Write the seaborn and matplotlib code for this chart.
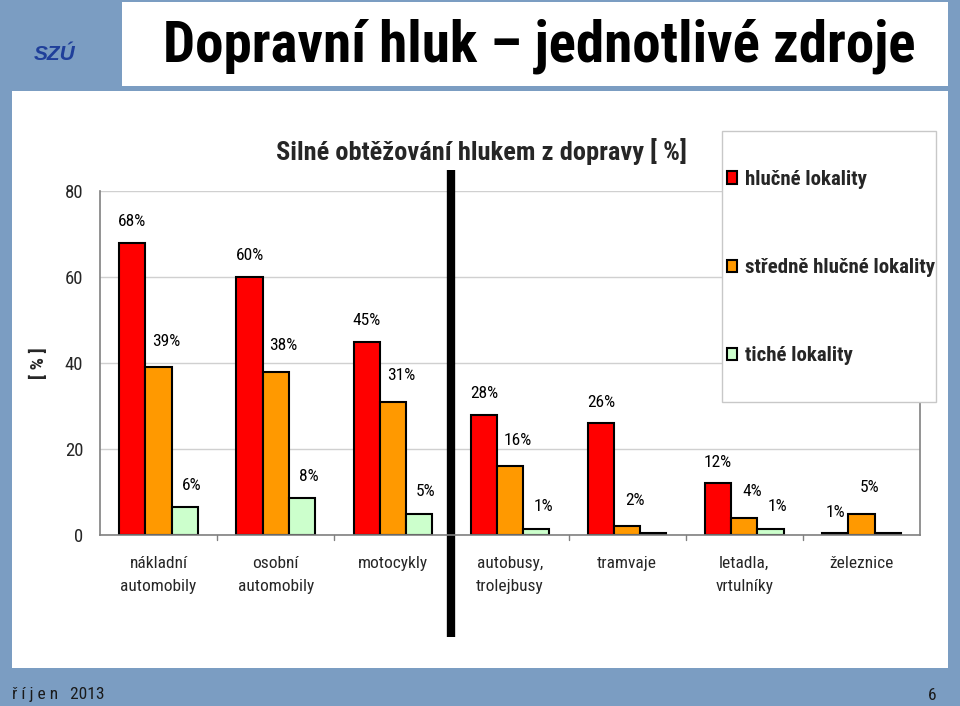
import matplotlib
matplotlib.use("Agg")
import matplotlib.pyplot as plt
from matplotlib.patches import Rectangle
import seaborn as sns
import pandas as pd

# ---- data ----
categories = ["nákladní\nautomobily", "osobní\nautomobily", "motocykly",
              "autobusy,\ntrolejbusy", "tramvaje", "letadla,\nvrtulníky", "železnice"]
series = ["hlučné lokality", "středně hlučné lokality", "tiché lokality"]
hlucne = [68, 60, 45, 28, 26, 12, 0.4]
stredne = [39, 38, 31, 16, 2, 4, 5]
tiche = [6.5, 8.5, 5, 1.5, 0.4, 1.5, 0.4]
labels_hlucne = ["68%", "60%", "45%", "28%", "26%", "12%", "1%"]
labels_stredne = ["39%", "38%", "31%", "16%", "2%", "4%", "5%"]
labels_tiche = ["6%", "8%", "5%", "1%", "", "1%", ""]
yticks = [0, 20, 40, 60, 80]
colors = ["#ff0000", "#ff9900", "#ccffcc"]

rows = []
for s, vals in zip(series, [hlucne, stredne, tiche]):
    for c, v in zip(categories, vals):
        rows.append({"kategorie": c, "lokalita": s, "hodnota": v})
df = pd.DataFrame(rows)

sns.set_theme(style="white")
FONT = ["Liberation Sans Narrow", "Roboto Condensed", "Barlow Semi Condensed", "DejaVu Sans"]
plt.rcParams["font.family"] = FONT

W, H = 960, 706
fig = plt.figure(figsize=(W / 100, H / 100), dpi=100)
fig.patch.set_facecolor("#7b9dc2")

def frect(x0, y0, x1, y1, **kw):
    fig.patches.append(Rectangle((x0 / W, 1 - y1 / H), (x1 - x0) / W, (y1 - y0) / H,
                                 transform=fig.transFigure, figure=fig, zorder=-5, **kw))

# white panels
frect(12, 91, 948, 668, facecolor="white", edgecolor="none")
frect(122, 2, 948, 86, facecolor="white", edgecolor="none")

fig.text(539 / W, 1 - 46 / H, "Dopravní hluk – jednotlivé zdroje", ha="center", va="center",
         fontsize=41, fontweight="bold", color="black")
# logo placeholder text
fig.text(55 / W, 1 - 55 / H, "SZÚ", ha="center", va="center", fontsize=15,
         fontweight="bold", fontstyle="italic", color="#1f3f9a", family=["Liberation Sans", "DejaVu Sans"])
fig.text(12 / W, 1 - 695 / H, "ř í j e n   2013", ha="left", va="center", fontsize=12.5, color="#1a1a1a")
fig.text(932 / W, 1 - 695 / H, "6", ha="center", va="center", fontsize=12.5, color="#1a1a1a")

ax = fig.add_axes([100 / W, 1 - 535 / H, 820 / W, 344 / H])
ax.set_facecolor("white")
sns.barplot(data=df, x="kategorie", y="hodnota", hue="lokalita", palette=colors, saturation=1,
            width=0.67, gap=0, edgecolor="black", linewidth=1.5, ax=ax, legend=True)

ax.set_ylim(0, 80)
ax.set_xlim(-0.5, len(categories) - 0.5)
ax.set_yticks(yticks)
ax.set_yticklabels([str(t) for t in yticks], fontsize=13.5)
ax.tick_params(axis="y", length=0, pad=12)
ax.tick_params(axis="x", length=0, pad=15, labelsize=12.5)
for lab in ax.get_xticklabels():
    lab.set_linespacing(1.65)
ax.set_xlabel("")
ax.set_ylabel("[ % ]", fontsize=14, fontweight="bold", labelpad=12)
ax.yaxis.grid(True, color="#d0d0d0", linewidth=1)
ax.set_axisbelow(True)
ax.spines["top"].set_visible(False)
for side in ["left", "bottom", "right"]:
    ax.spines[side].set_color("#808080")
    ax.spines[side].set_linewidth(1.2)
for b in range(1, len(categories)):
    ax.plot([b - 0.5, b - 0.5], [0, -0.015], transform=ax.get_xaxis_transform(),
            color="#808080", lw=1, clip_on=False)

all_labels = [labels_hlucne, labels_stredne, labels_tiche]
offsets = [(0, 21), (8, 26), (7, 22)]
for cont, labs, (dx, dy) in zip(ax.containers, all_labels, offsets):
    for rect, lab in zip(cont, labs):
        if not lab:
            continue
        xc = rect.get_x() + rect.get_width() / 2
        ax.annotate(lab, (xc, rect.get_height()), xytext=(dx, dy), textcoords="offset pixels",
                    ha="center", va="center", fontsize=12.5, color="black")

ax.plot([2.5, 2.5], [-0.297, 1.061], transform=ax.get_xaxis_transform(), color="black",
        lw=6, clip_on=False, solid_capstyle="butt")

ax.set_title("Silné obtěžování hlukem z dopravy [ %]", fontsize=19, fontweight="bold", pad=22,
             x=0.465)

# legend box
box = Rectangle((722 / W, 1 - 402 / H), 214 / W, 271 / H, transform=fig.transFigure,
                facecolor="white", edgecolor="#c8c8c8", linewidth=1, zorder=4.5, clip_on=False)
ax.add_artist(box)
leg = ax.legend(loc="upper left", bbox_to_anchor=(727 / W, 1 - 170 / H),
                bbox_transform=fig.transFigure, fontsize=15, frameon=False,
                labelspacing=3.32, borderpad=0, handlelength=0.5,
                handleheight=0.55, handletextpad=0.35, borderaxespad=0, title=None)
leg.set_zorder(6)
for t in leg.get_texts():
    t.set_fontweight("bold")

fig.savefig("out.png", dpi=100, facecolor=fig.get_facecolor())
